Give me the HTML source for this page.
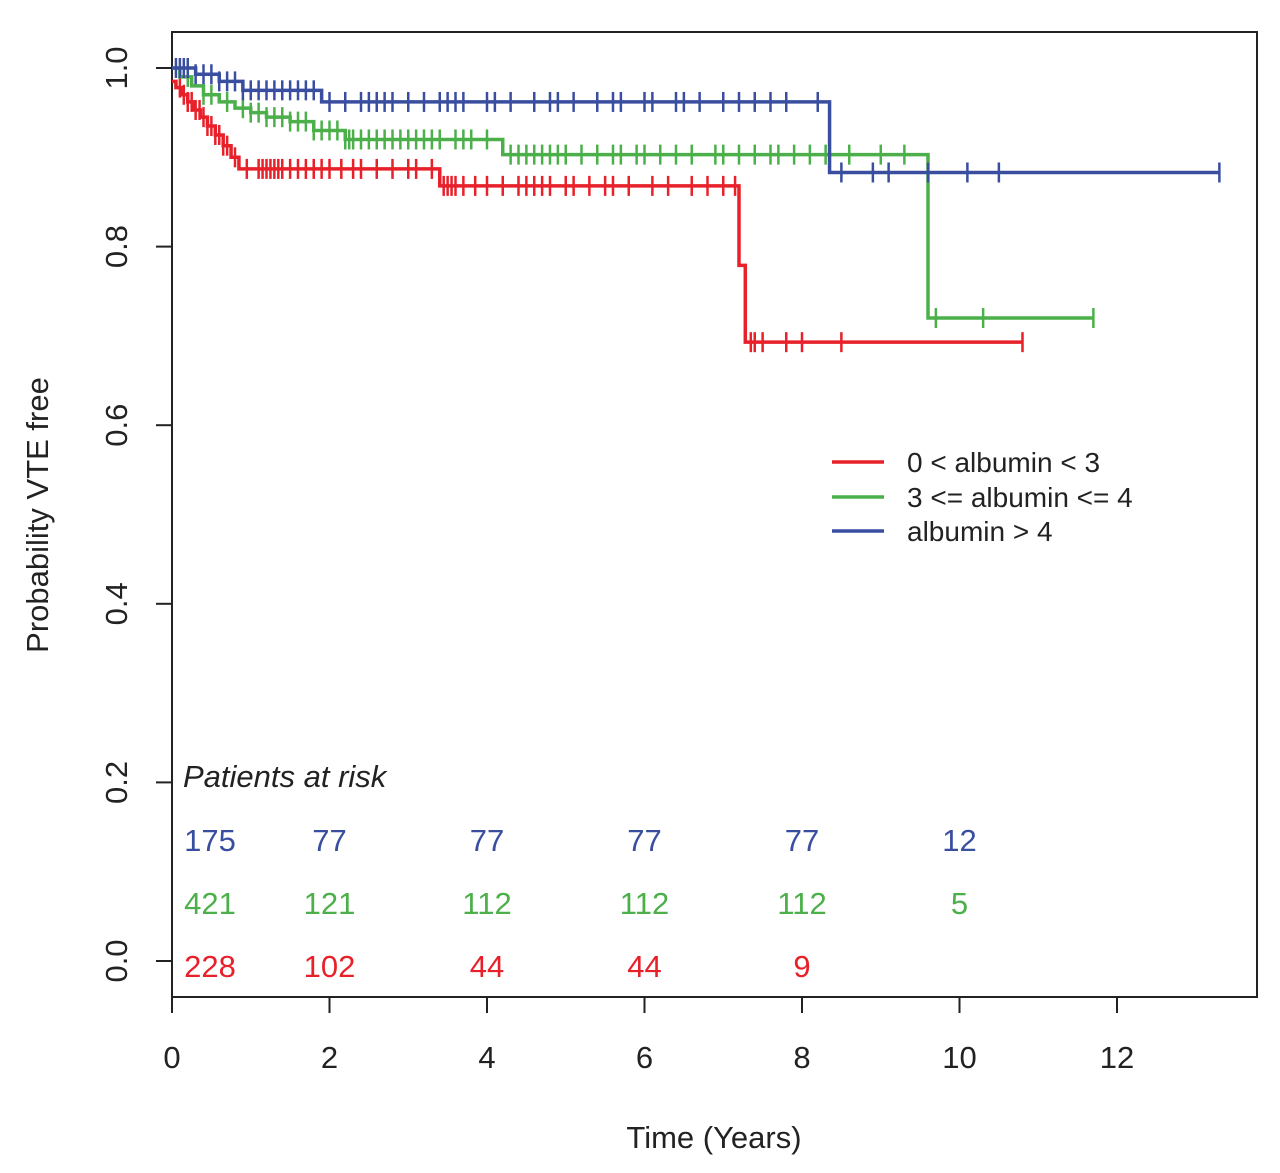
<!DOCTYPE html>
<html><head><meta charset="utf-8"><style>
body{margin:0;background:#fff}
svg text{font-family:"Liberation Sans",Arial,sans-serif}
</style></head><body>
<svg id="chart" width="1280" height="1168">
<g id="g"></g>
</svg>
<script>
const redTimes=[0,0.05,0.12,0.2,0.28,0.36,0.45,0.55,0.65,0.75,0.85,3.4,7.2,7.28];
const redSurv=[0.985,0.978,0.97,0.962,0.953,0.945,0.935,0.925,0.913,0.9,0.887,0.868,0.779,0.693];
const redEnd=10.8;
const redCens=[0.1,0.15,0.2,0.25,0.3,0.35,0.4,0.45,0.5,0.55,0.6,0.65,0.7,0.8,0.95,1.1,1.15,1.2,1.25,1.3,1.35,1.4,1.5,1.6,1.7,1.8,1.9,2.0,2.15,2.3,2.4,2.6,2.8,3.0,3.1,3.3,3.45,3.5,3.55,3.6,3.7,3.85,4.0,4.2,4.4,4.5,4.6,4.7,4.8,5.0,5.1,5.3,5.5,5.6,5.8,6.1,6.3,6.6,6.8,7.0,7.15,7.35,7.4,7.5,7.8,8.0,8.5,10.8];
const greenTimes=[0,0.1,0.25,0.4,0.6,0.8,1.0,1.2,1.5,1.8,2.2,4.2,9.6];
const greenSurv=[1.0,0.99,0.98,0.97,0.962,0.955,0.95,0.945,0.94,0.93,0.92,0.903,0.72];
const greenEnd=11.7;
const greenCens=[0.2,0.4,0.5,0.7,0.9,1.0,1.1,1.2,1.3,1.4,1.5,1.6,1.7,1.8,1.9,2.0,2.1,2.2,2.25,2.3,2.4,2.5,2.6,2.7,2.8,2.9,3.0,3.1,3.2,3.3,3.4,3.6,3.7,3.8,4.0,4.3,4.4,4.5,4.6,4.7,4.8,4.9,5.0,5.2,5.4,5.6,5.7,5.9,6.0,6.2,6.4,6.6,6.9,7.0,7.2,7.4,7.6,7.7,7.9,8.1,8.3,8.6,9.0,9.3,9.7,10.3,11.7];
const blueTimes=[0,0.3,0.6,0.9,1.9,8.35];
const blueSurv=[1.0,0.993,0.985,0.975,0.962,0.883];
const blueEnd=13.3;
const blueCens=[0.05,0.1,0.15,0.2,0.3,0.4,0.5,0.6,0.7,0.8,0.9,1.0,1.1,1.2,1.3,1.4,1.5,1.6,1.7,1.8,2.0,2.2,2.4,2.5,2.6,2.7,2.8,3.0,3.2,3.4,3.5,3.6,3.7,4.0,4.1,4.3,4.6,4.8,4.9,5.1,5.4,5.6,5.7,6.0,6.1,6.4,6.5,6.7,7.0,7.2,7.4,7.6,7.8,8.2,8.5,8.9,9.1,9.6,10.1,10.5,13.3];
const xTicks=[0,2,4,6,8,10,12];
const yTicks=[0,0.2,0.4,0.6,0.8,1.0];
const riskTimes=[0,2,4,6,8,10];
const riskBlue=["175","77","77","77","77","12"];
const riskGreen=["421","121","112","112","112","5"];
const riskRed=["228","102","44","44","9",""];
const X=t=>172+t*78.75, Y=s=>961-s*893;
const NS="http://www.w3.org/2000/svg", g=document.getElementById('g');
function el(tag,a,txt){const e=document.createElementNS(NS,tag);for(const k in a)e.setAttribute(k,a[k]);if(txt!==undefined)e.textContent=txt;g.appendChild(e);return e;}
const frame=el('rect',{x:172,y:32,width:1085,height:965,fill:'none',stroke:'#222','stroke-width':2});


xTicks.forEach(t=>{
  const l=el('line',{x1:X(t),x2:X(t),y1:997,y2:1013,stroke:'#222','stroke-width':2});
  
  
  const tx=el('text',{x:X(t),y:1068,'font-size':31,'text-anchor':'middle',fill:'#222'},String(t));
  
  
});
yTicks.forEach(v=>{
  const l=el('line',{x1:156,x2:172,y1:Y(v),y2:Y(v),stroke:'#222','stroke-width':2});
  
  
  const tx=el('text',{x:0,y:0,'font-size':31,'text-anchor':'middle',fill:'#222',transform:`translate(127,${Y(v)}) rotate(-90)`},v.toFixed(1));
  
  
});
const xt=el('text',{x:714,y:1148,'font-size':31,'text-anchor':'middle',fill:'#222'},'Time (Years)');


const yt=el('text',{x:0,y:0,'font-size':31,'text-anchor':'middle',fill:'#222',transform:'translate(48,515) rotate(-90)'},'Probability VTE free');


function series(times,surv,end,cens,color,name){
  let d=`M${X(times[0])},${Y(surv[0])}`;
  for(let i=1;i<times.length;i++){d+=`H${X(times[i])}V${Y(surv[i])}`;}
  d+=`H${X(end)}`;
  const p=el('path',{d:d,fill:'none',stroke:color,'stroke-width':3.5});
  
  
  cens.forEach(c=>{
    let i=0;while(i+1<times.length&&times[i+1]<=c)i++;
    const y=Y(surv[i]);
    const m=el('line',{x1:X(c),x2:X(c),y1:y-10,y2:y+10,stroke:color,'stroke-width':2.5});
    
    
  });
}
series(redTimes,redSurv,redEnd,redCens,'#e8202a','red');
series(greenTimes,greenSurv,greenEnd,greenCens,'#4cb04a','green');
series(blueTimes,blueSurv,blueEnd,blueCens,'#3a4ea0','blue');
const leg=[['0 < albumin < 3','#e8202a',462],['3 <= albumin <= 4','#4cb04a',497],['albumin > 4','#3a4ea0',531]];
leg.forEach(l=>{
  const ln=el('line',{x1:832,x2:884,y1:l[2],y2:l[2],stroke:l[1],'stroke-width':3.5});
  
  
  const t=el('text',{x:907,y:l[2]+10,'font-size':28,fill:'#222'},l[0]);
  
  
});
const pr=el('text',{x:183,y:787,'font-size':31,'font-style':'italic',fill:'#222'},'Patients at risk');


[[riskBlue,'#3a4ea0',851],[riskGreen,'#4cb04a',914],[riskRed,'#e8202a',977]].forEach(r=>{
  riskTimes.forEach((t,i)=>{
    const x=i===0?210:X(t);
    const tx=el('text',{x:x,y:r[2],'font-size':31,'text-anchor':'middle',fill:r[1]},r[0][i]);
    
    
  });
});
</script>
</body></html>
